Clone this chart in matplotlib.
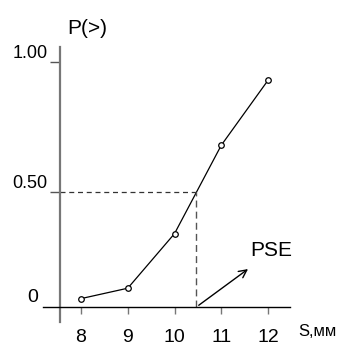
import matplotlib.pyplot as plt

# data
s_mm = [8, 9, 10, 11, 12]
p_gt = [0.09, 0.13, 0.34, 0.68, 0.93]
pse = 10.47
xticks = [8, 9, 10, 11, 12]
yticks = [0.50, 1.00]
ytick_labels = ["0.50", "1.00"]

plt.rcParams['font.family'] = ['Liberation Sans', 'DejaVu Sans']

fig = plt.figure(figsize=(3.39, 3.46), dpi=100)
ax = fig.add_axes([43/339, 24/346, 247/339, 275/346])
ax.set_xlim(7.187, 12.47)
ax.set_ylim(0, 1.058)

# axes
for sp in ['top', 'right']:
    ax.spines[sp].set_visible(False)
ax.spines['left'].set_position(('data', 7.55))
ax.spines['left'].set_color('#777777')
ax.spines['left'].set_linewidth(1.6)
ax.spines['bottom'].set_position(('data', 0.058))
ax.spines['bottom'].set_color('black')
ax.spines['bottom'].set_linewidth(1.0)

ax.set_xticks(xticks)
ax.set_xticklabels([str(v) for v in xticks], fontsize=14)
ax.tick_params(axis='x', direction='out', length=5, width=1, color='#777777', pad=11)
ax.set_yticks(yticks)
ax.set_yticklabels(ytick_labels, fontsize=13)
ax.tick_params(axis='y', direction='out', length=7, width=1, color='#555555', pad=2)
for lab in ax.get_yticklabels():
    lab.set_verticalalignment('bottom')

# curve
ax.plot(s_mm, p_gt, color='black', lw=0.9, marker='o', ms=4,
        mfc='white', mec='black', mew=0.9)

# PSE dashed guides
ax.plot([7.55, pse], [0.5, 0.5], color='#333333', lw=0.9, ls=(0, (4, 3)))
ax.plot([pse, pse], [0.058, 0.5], color='#555555', lw=1.0, ls=(0, (5, 3)))

ax.annotate('', xy=(11.62, 0.21), xytext=(pse, 0.058),
            arrowprops=dict(arrowstyle='->', color='black', lw=1.0,
                            mutation_scale=14))
ax.text(11.63, 0.275, 'PSE', fontsize=15, va='center', ha='left')

ax.text(7.09, 0.095, '0', fontsize=14, va='center', ha='right')
ax.text(7.7, 1.13, 'P(>)', fontsize=15, va='center', ha='left', clip_on=False)
fig.text(298/339, 1 - 331/346, 'S,мм', fontsize=12, va='center', ha='left')

fig.savefig('out.png', dpi=100)
